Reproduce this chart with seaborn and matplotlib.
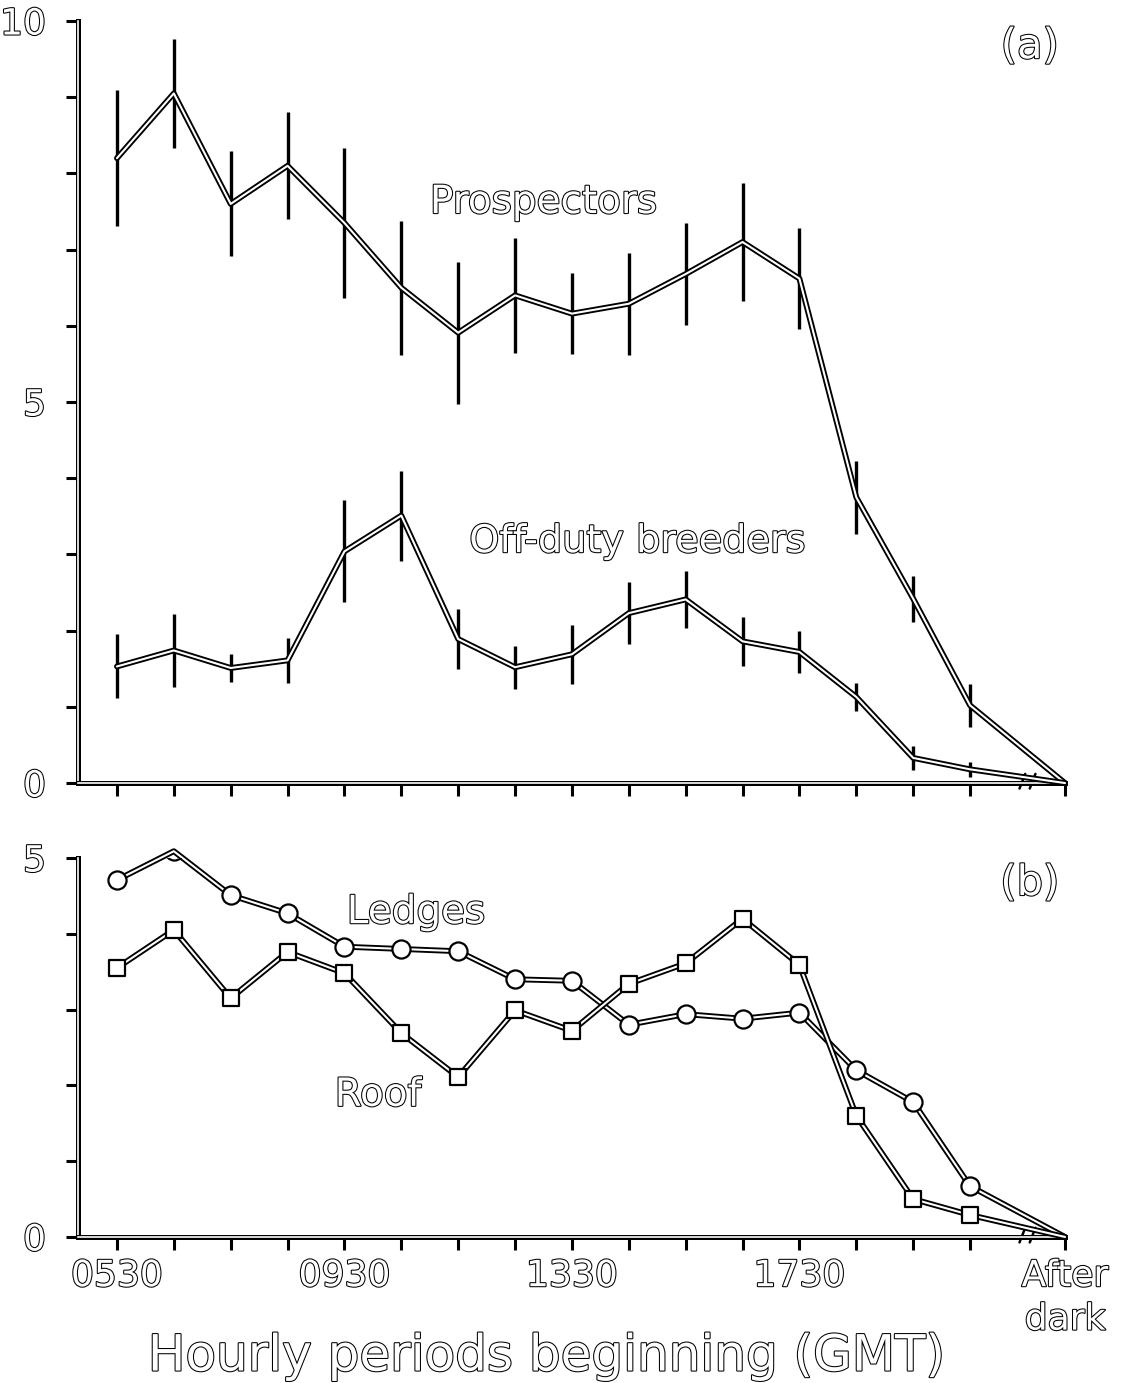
import numpy as np
import matplotlib
matplotlib.use("Agg")
import matplotlib.pyplot as plt
import matplotlib.patheffects as pe
import seaborn as sns

# hourly periods, last slot is "after dark" (axis break before it)
slots = ["0530", "0630", "0730", "0830", "0930", "1030", "1130", "1230", "1330",
         "1430", "1530", "1630", "1730", "1830", "1930", "2030", "After\ndark"]
shown = ["0530", "0930", "1330", "1730", "After\ndark"]
pos = [0, 1, 2, 3, 4, 5, 6, 7, 8, 9, 10, 11, 12, 13, 14, 15, 16.67]

# (a) mean numbers present, with error bars
prospectors = [8.2, 9.05, 7.6, 8.1, 7.35, 6.5, 5.91, 6.4, 6.16, 6.29, 6.68, 7.1, 6.62, 3.75, 2.42, 1.02, 0]
prosp_err = [0.89, 0.72, 0.69, 0.7, 0.98, 0.88, 0.93, 0.75, 0.53, 0.67, 0.67, 0.78, 0.66, 0.48, 0.3, 0.28]
offduty = [1.53, 1.74, 1.51, 1.61, 3.04, 3.51, 1.89, 1.52, 1.69, 2.23, 2.41, 1.86, 1.72, 1.13, 0.33, 0.18, 0]
off_err = [0.42, 0.48, 0.19, 0.3, 0.67, 0.59, 0.39, 0.28, 0.39, 0.41, 0.37, 0.32, 0.27, 0.18, 0.16, 0.1]

# (b) ledges vs roof
ledges = [4.71, 5.09, 4.51, 4.27, 3.83, 3.8, 3.77, 3.4, 3.38, 2.8, 2.94, 2.88, 2.96, 2.2, 1.78, 0.67, 0]
roof = [3.55, 4.05, 3.15, 3.76, 3.48, 2.69, 2.11, 2.99, 2.72, 3.34, 3.61, 4.2, 3.59, 1.6, 0.5, 0.29, 0]

sns.set_style("white")
plt.rcParams["font.family"] = ["DejaVu Sans"]

hollow = [pe.withStroke(linewidth=1.5, foreground="black")]
dbl = [pe.Stroke(linewidth=4.2, foreground="black"), pe.Normal()]


def htext(ax, x, y, s, size, **kw):
    ax.text(x, y, s, fontsize=size, color="white", path_effects=hollow, **kw)


def style_axes(ax, ymax, labels):
    ax.set_xlim(-0.685, 16.67)
    ax.set_ylim(0, ymax)
    for side in ["top", "right"]:
        ax.spines[side].set_visible(False)
    for side in ["left", "bottom"]:
        ax.spines[side].set_color("white")
        ax.spines[side].set_linewidth(1.2)
        ax.spines[side].set_path_effects([pe.Stroke(linewidth=3.6, foreground="black"), pe.Normal()])
    ax.set_yticks(range(ymax + 1))
    ax.set_yticklabels([str(v) if v % 5 == 0 else "" for v in range(ymax + 1)])
    ax.set_xticks(pos)
    ax.set_xticklabels([s if (labels and s in shown) else "" for s in slots], linespacing=1.35)
    ax.tick_params(axis="both", direction="out", length=9, width=2.2, color="black",
                   labelsize=26, pad=7, bottom=True, left=True)
    ax.tick_params(axis="y", pad=14)
    for lab in ax.get_xticklabels() + ax.get_yticklabels():
        lab.set_color("white")
        lab.set_path_effects(hollow)
    # axis break marks before "after dark"
    tr = ax.get_xaxis_transform()
    for bx in [15.92, 16.1]:
        ax.plot([bx - 0.05, bx + 0.05], [-0.012 * 10 / ymax * 0.6, 0.012 * 10 / ymax],
                transform=tr, color="black", lw=1.8, clip_on=False)


fig = plt.figure(figsize=(11.27, 13.83), dpi=100)
ax1 = fig.add_axes([0.0692, 0.4338, 0.8758, 0.551])
ax2 = fig.add_axes([0.0692, 0.1056, 0.8758, 0.274])

# panel (a)
ax1.vlines(pos[:16], np.array(prospectors[:16]) - prosp_err, np.array(prospectors[:16]) + prosp_err,
           color="black", lw=2.4, zorder=2)
ax1.vlines(pos[:16], np.array(offduty[:16]) - off_err, np.array(offduty[:16]) + off_err,
           color="black", lw=2.4, zorder=2)
for vals in [prospectors, offduty]:
    sns.lineplot(x=pos, y=vals, ax=ax1, color="white", linewidth=1.5, path_effects=dbl,
                 errorbar=None, zorder=3, clip_on=False)
style_axes(ax1, 10, False)
htext(ax1, 7.5, 7.48, "Prospectors", 28, ha="center", va="baseline")
htext(ax1, 9.16, 3.03, "Off-duty breeders", 27.5, ha="center", va="baseline")
htext(ax1, 16.05, 9.67, "(a)", 30, ha="center", va="center")

# panel (b)
for vals, mk, sz in [(ledges, "o", 170), (roof, "s", 140)]:
    sns.lineplot(x=pos, y=vals, ax=ax2, color="white", linewidth=1.5, path_effects=dbl,
                 errorbar=None, zorder=3, clip_on=False)
    sns.scatterplot(x=pos[:16], y=vals[:16], ax=ax2, marker=mk, s=sz, color="white",
                    edgecolor="black", linewidth=1.6, zorder=4)
style_axes(ax2, 5, True)
htext(ax2, 5.26, 4.14, "Ledges", 28, ha="center", va="baseline")
htext(ax2, 4.59, 1.73, "Roof", 28, ha="center", va="baseline")
htext(ax2, 16.05, 4.67, "(b)", 30, ha="center", va="center")

fig.text(0.485, 0.009, "Hourly periods beginning (GMT)", fontsize=36, color="white",
         path_effects=hollow, ha="center", va="baseline")

fig.savefig("out.png", dpi=100)
